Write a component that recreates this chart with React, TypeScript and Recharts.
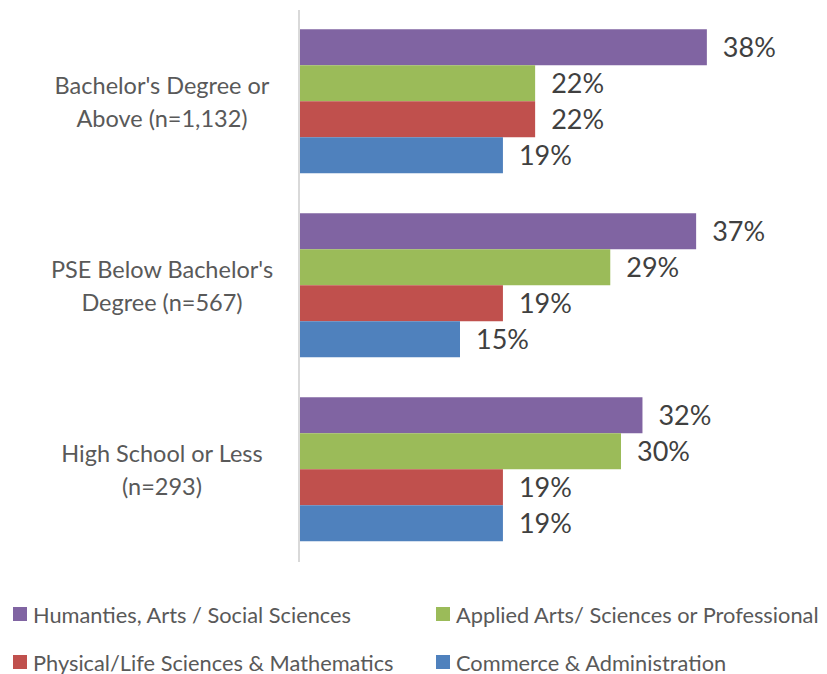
import { BarChart, Bar, XAxis, YAxis, LabelList } from "recharts";

const categories = [
  "Bachelor's Degree or\nAbove (n=1,132)",
  "PSE Below Bachelor's\nDegree (n=567)",
  "High School or Less\n(n=293)",
];

const seriesNames = [
  "Humanties, Arts / Social Sciences",
  "Applied Arts/ Sciences or Professional",
  "Physical/Life Sciences & Mathematics",
  "Commerce & Administration",
];

const humanities = [38, 37, 32];
const applied = [22, 29, 30];
const physical = [22, 19, 19];
const commerce = [19, 15, 19];

const colors = ["#8064A2", "#9BBB59", "#C0504D", "#4F81BD"];
const keys = ["humanities", "applied", "physical", "commerce"];

const FONT = "Lato, 'Open Sans', sans-serif";

const data = categories.map((name, i) => ({
  name,
  humanities: humanities[i],
  applied: applied[i],
  physical: physical[i],
  commerce: commerce[i],
}));

const CategoryTick = ({ y, payload }: any) => {
  const lines = String(payload.value).split("\n");
  const lineH = 33;
  const startY = y - ((lines.length - 1) * lineH) / 2;
  return (
    <text x={162} y={startY} textAnchor="middle" fill="#595959" fontSize={23.5} fontFamily={FONT}>
      {lines.map((line, i) => (
        <tspan key={i} x={162} y={startY + i * lineH} dy="0.35em">
          {line}
        </tspan>
      ))}
    </text>
  );
};

const legendPos = [
  { x: 13, y: 614 },
  { x: 436, y: 614 },
  { x: 13, y: 662 },
  { x: 436, y: 662 },
];

export default function App() {
  return (
    <div style={{ position: "absolute", left: 0, top: 0, width: 827, height: 674, background: "#fff", fontFamily: FONT }}>
      <BarChart
        layout="vertical"
        width={827}
        height={580}
        data={data}
        margin={{ top: 10, right: 45, left: 0, bottom: 18 }}
        barCategoryGap="10.5%"
        barGap={0}
      >
        <XAxis type="number" domain={[0, 45]} hide />
        <YAxis
          type="category"
          dataKey="name"
          width={299}
          axisLine={{ stroke: "#d9d9d9", strokeWidth: 2 }}
          tickLine={false}
          tick={<CategoryTick />}
        />
        {keys.map((k, i) => (
          <Bar key={k} dataKey={k} name={seriesNames[i]} fill={colors[i]} isAnimationActive={false}>
            <LabelList
              dataKey={k}
              position="right"
              offset={16}
              formatter={(v: any) => `${v}%`}
              fill="#404040"
              fontSize={27}
              fontFamily={FONT}
            />
          </Bar>
        ))}
      </BarChart>
      {seriesNames.map((s, i) => (
        <div
          key={s}
          style={{
            position: "absolute",
            left: legendPos[i].x,
            top: legendPos[i].y - 14,
            height: 28,
            display: "flex",
            alignItems: "center",
            whiteSpace: "nowrap",
            fontSize: 21.8,
            color: "#595959",
          }}
        >
          <span style={{ display: "inline-block", width: 14, height: 14, background: colors[i], marginRight: 6 }} />
          {s}
        </div>
      ))}
    </div>
  );
}
